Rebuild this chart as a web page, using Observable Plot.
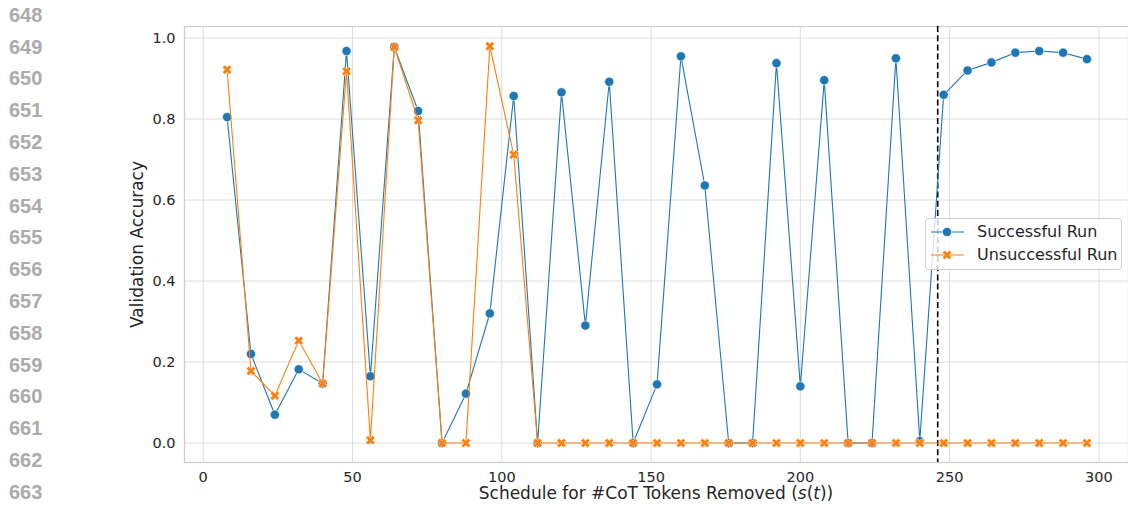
<!DOCTYPE html>
<html>
<head>
<meta charset="utf-8">
<script src="https://cdn.jsdelivr.net/npm/d3@7"></script>
<script src="https://cdn.jsdelivr.net/npm/@observablehq/plot@0.6"></script>
<style>
  html, body { margin: 0; padding: 0; background: #fff; }
  #wrap { position: relative; width: 1128px; height: 505px; overflow: hidden; font-family: "DejaVu Sans", sans-serif; color: #262626; }
  .ln { position: absolute; left: 9px; font-family: "Liberation Sans", Arial, sans-serif; font-weight: bold; font-size: 20px; color: #ababab; line-height: 20px; }
  #xlabel { position: absolute; left: 184px; width: 944px; top: 483px; text-align: center; font-size: 17px; line-height: 20px; }
  #legend { position: absolute; left: 925px; top: 218px; width: 197px; height: 52px; background: rgba(255,255,255,0.8); border: 1px solid #d0d0d0; border-radius: 4px; box-sizing: border-box; font-size: 16px; }
  .lrow { position: absolute; left: 4px; height: 20px; display: flex; align-items: center; }
  .lrow span { margin-left: 13px; }
</style>
</head>
<body>
<div id="wrap"></div>
<script>
// Data
const schedule = [8,16,24,32,40,48,56,64,72,80,88,96,104,112,120,128,136,144,152,160,168,176,184,192,200,208,216,224,232,240,248,256,264,272,280,288,296];
const successful = [0.805,0.22,0.07,0.182,0.147,0.968,0.165,0.978,0.82,0.0,0.122,0.32,0.857,0.0,0.866,0.29,0.892,0.0,0.145,0.955,0.636,0.0,0.0,0.938,0.14,0.896,0.0,0.0,0.95,0.005,0.86,0.92,0.94,0.964,0.968,0.964,0.948];
const unsuccessful = [0.922,0.178,0.117,0.253,0.147,0.918,0.007,0.978,0.797,0.0,0.0,0.98,0.712,0,0,0,0,0,0,0,0,0,0,0,0,0,0,0,0,0,0,0,0,0,0,0,0];
const seriesNames = ["Successful Run", "Unsuccessful Run"];
const seriesColors = ["#1f77b4", "#ff7f0e"];
const xTicks = [0,50,100,150,200,250,300];
const yTicks = [0.0,0.2,0.4,0.6,0.8,1.0];
const thresholdX = 246;
const yLabel = "Validation Accuracy";
const lineNumbers = [648,649,650,651,652,653,654,655,656,657,658,659,660,661,662,663];

const succ = schedule.map((x, i) => ({x, y: successful[i]}));
const unsucc = schedule.map((x, i) => ({x, y: unsuccessful[i]}));

// filled "X" marker like matplotlib's 'X'
const filledX = {
  draw(ctx, size) {
    const r = Math.sqrt(size / Math.PI);
    const e = r, a = r / 3;
    const pts = [[-a,e],[a,e],[a,a],[e,a],[e,-a],[a,-a],[a,-e],[-a,-e],[-a,-a],[-e,-a],[-e,a],[-a,a]]
      .map(([x, y]) => [(x - y) / Math.SQRT2, (x + y) / Math.SQRT2]);
    ctx.moveTo(pts[0][0], pts[0][1]);
    for (let i = 1; i < pts.length; i++) ctx.lineTo(pts[i][0], pts[i][1]);
    ctx.closePath();
  }
};

const chart = Plot.plot({
  width: 1128,
  height: 505,
  marginLeft: 184,
  marginRight: 0,
  marginTop: 26,
  marginBottom: 43,
  style: {fontFamily: "DejaVu Sans, sans-serif", fontSize: "14.5px", color: "#262626", background: "transparent"},
  x: {domain: [-6.26, 309.9]},
  y: {domain: [-0.048, 1.0286]},
  marks: [
    Plot.gridX(xTicks, {stroke: "#dddddd", strokeOpacity: 1, strokeWidth: 1}),
    Plot.gridY(yTicks, {stroke: "#dddddd", strokeOpacity: 1, strokeWidth: 1}),
    Plot.frame({stroke: "#cccccc", strokeWidth: 1.2}),
    Plot.axisX(xTicks, {tickSize: 0, tickPadding: 9, label: null, fontSize: 14.5, tickFormat: d => String(d)}),
    Plot.axisY(yTicks, {tickSize: 0, tickPadding: 9, label: null, fontSize: 14.5, tickFormat: d => d.toFixed(1)}),
    Plot.text([yLabel], {frameAnchor: "left", dx: -47, rotate: -90, textAnchor: "middle", text: d => d, fontSize: 17, fill: "#262626"}),
    Plot.ruleX([thresholdX], {stroke: "black", strokeWidth: 1.6, strokeDasharray: "6,3.2"}),
    Plot.line(succ, {x: "x", y: "y", stroke: seriesColors[0], strokeWidth: 1.1}),
    Plot.dot(succ, {x: "x", y: "y", r: 4.6, fill: seriesColors[0], stroke: "white", strokeWidth: 0.6}),
    Plot.line(unsucc, {x: "x", y: "y", stroke: seriesColors[1], strokeWidth: 1.1}),
    Plot.dot(unsucc, {x: "x", y: "y", r: 5, symbol: filledX, fill: seriesColors[1], stroke: "white", strokeWidth: 0.6})
  ]
});

const wrap = document.getElementById("wrap");
chart.style.position = "absolute";
chart.style.left = "0";
chart.style.top = "0";
wrap.appendChild(chart);

// line numbers (paper margin)
lineNumbers.forEach((n, i) => {
  const d = document.createElement("div");
  d.className = "ln";
  d.textContent = String(n);
  d.style.top = (4.7 + i * 31.8) + "px";
  wrap.appendChild(d);
});

// x label
const xl = document.createElement("div");
xl.id = "xlabel";
xl.innerHTML = "Schedule for #CoT Tokens Removed (<i>s</i>(<i>t</i>))";
wrap.appendChild(xl);

// legend
const lg = document.createElement("div");
lg.id = "legend";
const xPath = (() => { const p = d3.path(); filledX.draw(p, 25 * Math.PI); return p.toString(); })();
seriesNames.forEach((name, i) => {
  const row = document.createElement("div");
  row.className = "lrow";
  row.style.top = (i === 0 ? 2.5 : 25.5) + "px";
  const marker = i === 0
    ? `<circle cx="17" cy="10" r="4.6" fill="${seriesColors[0]}" stroke="white" stroke-width="0.6"/>`
    : `<path transform="translate(17,10)" d="${xPath}" fill="${seriesColors[1]}" stroke="white" stroke-width="0.6"/>`;
  row.innerHTML = `<svg width="34" height="20"><line x1="1" x2="34" y1="10" y2="10" stroke="${seriesColors[i]}" stroke-width="1.1"/>${marker}</svg><span>${name}</span>`;
  lg.appendChild(row);
});
wrap.appendChild(lg);
</script>
</body>
</html>
